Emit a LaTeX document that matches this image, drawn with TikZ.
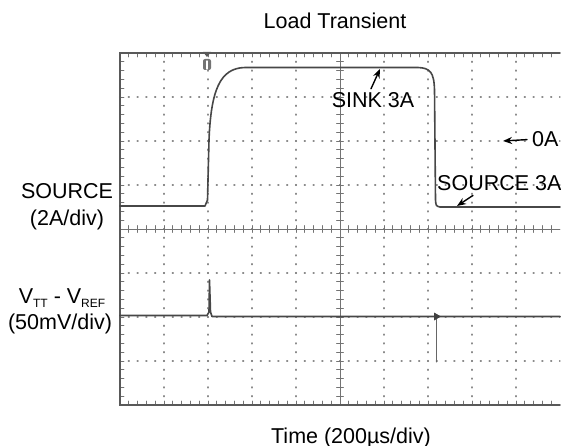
\documentclass[tikz,border=0pt]{standalone}
\usepackage{fontspec}
\setmainfont{Liberation Sans}
\usetikzlibrary{arrows.meta}
\newcommand\lbfont{\fontsize{21.5}{24}\selectfont}
\newcommand\subfont{\fontsize{12}{12}\selectfont}
\tikzset{
 griddot/.style={black!45, line width=1.1pt, dash pattern=on 1.1pt off 7.7pt},
 gtick/.style={black!55, line width=0.8pt},
 frame/.style={black!65, line width=1.5pt},
 trace/.style={black!72, line width=1.6pt, line join=round},
 lbl/.style={font=\lbfont, inner sep=0pt, anchor=base},
 callout/.style={-{Stealth[length=9pt,width=7pt]}, line width=1.4pt}
}
\begin{document}
\begin{tikzpicture}[x=1pt, y=-1pt, line cap=round]
 \useasboundingbox (0,0) rectangle (561,446);
 \foreach \gx in {164,208,252,296,384,428,472,516} \draw[griddot] (\gx,52.45)--(\gx,405);
 \foreach \gy in {97,141,185,273,317,361} \draw[griddot] (119.45,\gy)--(560,\gy);
 \draw[gtick] (340,53)--(340,405) (120,229)--(560,229);
 \foreach \i in {1,...,49} {
  \draw[gtick] ({120+8.8*\i},53)--++(0,4) ({120+8.8*\i},405)--++(0,-4) ({120+8.8*\i},225.5)--++(0,7);
 }
 \foreach \i in {1,...,39} {
  \draw[gtick] (120,{53+8.8*\i})--++(4,0) (336.5,{53+8.8*\i})--++(7,0);
 }
 \draw[frame] (560,53)--(120,53)--(120,405)--(560,405);
 \fill[black!65] (203,52)--(211,52)--(207,57)--cycle;
 \fill[black!55, rounded corners=2pt] (203,59) rectangle (211,70);
 \draw[white, line width=1.4pt] (207,61)--(207,69);
 \draw[trace] (120,206)--(205,206)--(207.5,200)--(209,140) .. controls (211,90) and (220,68) .. (245,67.5)--(418,67.5) .. controls (430,68) and (434,72) .. (434.5,90)--(435.5,200) .. controls (436,206) .. (440,207)--(560,207);
 \draw[trace] (120,315.5)--(207,315.5)--(209,312)--(209.5,280)--(210.5,312)--(212,316.5)--(560,316.5);
 \draw[black!60, line width=1pt] (436,316.5)--(436,362);
 \fill[black!75] (434,312.5)--(441,316.5)--(434,320.5)--cycle;
 \node[lbl] (title) at (335,29) {Load Transient};
 \node[lbl] (srclabel) at (67,198) {SOURCE};
 \node[lbl] (srcscale) at (67,225) {(2A/div)};
 \node[lbl] (vlabel) at (62,303) {V\raisebox{-4pt}{\subfont TT} - V\raisebox{-4pt}{\subfont REF}};
 \node[lbl] (vscale) at (60,329) {(50mV/div)};
 \node[lbl] (timelabel) at (351,443) {Time (200\textmu s/div)};
 \node[lbl] (sinklabel) at (373,108) {SINK 3A};
 \node[lbl, anchor=base west] (srcthree) at (437,191) {SOURCE 3A};
 \node[lbl, anchor=base west] (zeroA) at (532,147) {0A};
 \coordinate (sinktip) at (380,69);
 \coordinate (srctip) at (457,206);
 \coordinate (zerotip) at (503,141);
 \draw[callout] ([xshift=-2pt,yshift=4pt]sinklabel.north)--(sinktip);
 \draw[callout] ([xshift=36pt,yshift=-4pt]srcthree.south west)--(srctip);
 \draw[callout] ([xshift=-5pt]zeroA.west)--(zerotip);
\end{tikzpicture}
\end{document}
